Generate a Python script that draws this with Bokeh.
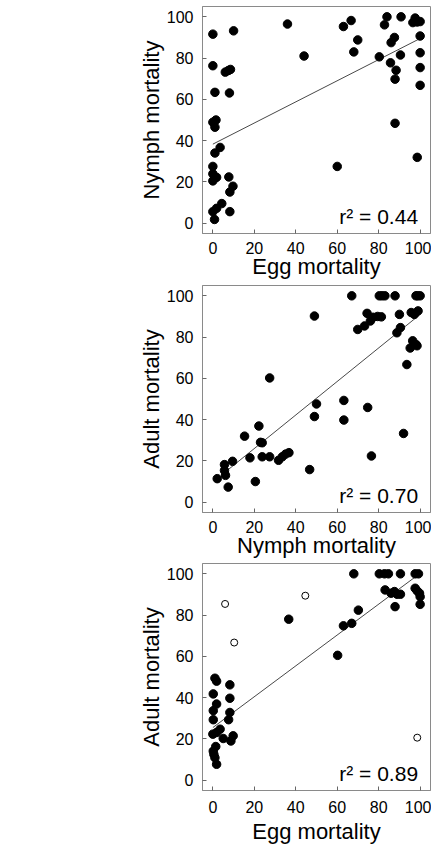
from bokeh.plotting import figure
from bokeh.layouts import column
from bokeh.models import Range1d, FixedTicker, Label
from bokeh.embed import file_html
from bokeh.resources import INLINE

# ---- data ----
ticks = [0, 20, 40, 60, 80, 100]

# Panel 1: egg vs nymph mortality
egg1 = [0, 10, 0, 6, 7.5, 8.5, 1, 8, 0, 1.5, 1, 3.5, 1, 0, 0, 0, 1.8, 7.7, 9.7, 8.2, 4.3, 1.8, 0, 0.8, 8.2,
        36, 44, 60, 63, 66.7, 69.9, 68, 80.3, 82.8, 84, 90.8, 86, 87.6, 85.7, 88.4, 87.9, 90.5, 87.9,
        97.6, 98.6, 96.5, 100, 100, 100, 100, 100, 98.6]
nymph1 = [91.6, 93.2, 76.3, 73.2, 74, 74.5, 63.4, 63.1, 48.9, 50, 46.5, 36.7, 34, 27.5, 23.9, 20.5, 22.2, 22.4, 17.9, 15.1, 9.5, 7.2, 5.6, 1.8, 5.6,
          96.5, 81, 27.5, 95.3, 98.2, 88.8, 83, 80.6, 96.1, 100, 100, 87.5, 90, 77.7, 74.1, 69.8, 81.5, 48.4,
          99.4, 97.5, 97.2, 97.7, 90.7, 82.6, 75.4, 66.8, 31.9]
fit1_x = [0, 100]
fit1_y = [38.3, 89.5]
r2_1 = "r\u00b2 = 0.44"

# Panel 2: nymph vs adult mortality
nymph2 = [2.1, 5.6, 5.6, 6.1, 7.4, 9.5, 15.3, 17.9, 20.5, 22.2, 23, 23.8, 23.8, 27.4, 27.4, 31.7, 33.5, 35.1, 36.7,
          46.7, 49, 49, 50, 63.2, 63.2, 67, 69.9, 73.2, 74.4, 74.7, 76.5, 76, 77.3, 79.5, 81.3, 80.3, 81.6, 83,
          87.9, 90, 88.8, 90.5, 92, 93.6, 95.2, 96.4, 98, 98.5, 95.7, 97.2, 99, 98, 98.8, 100]
adult2 = [11.4, 18.2, 15.4, 13, 7.3, 19.8, 32, 21.5, 10, 36.9, 29, 28.8, 22, 22, 60.2, 20.3, 22, 23.3, 24,
          15.8, 90.2, 41.5, 47.6, 49.3, 39.8, 100, 83.7, 85.4, 91.5, 45.9, 22.4, 87.8, 89.6, 90, 89.8, 100, 100, 100,
          100, 91, 82.1, 84.6, 33.3, 66.7, 74.7, 78.2, 76.4, 75.8, 91.9, 91, 92.7, 100, 100, 100]
fit2_x = [4, 100]
fit2_y = [13, 91]
r2_2 = "r\u00b2 = 0.70"

# Panel 3: egg vs adult mortality (filled and open symbols)
egg3 = [1, 1.8, 0.2, 1.8, 0.2, 0.2, 0, 1.8, 3.5, 5, 1.4, 0.2, 1, 1.8, 0.5, 8.2, 8.2, 8.2, 7.6, 9.8, 8.7,
        36.6, 60.2, 63, 67, 70.2, 68, 80.3, 82.8, 84.7, 90.5, 97.6, 99.2, 83.1, 86, 87.6, 88.9, 90.5, 87.9,
        97.6, 98.6, 99.7, 100, 100]
adult3 = [49.4, 48, 41.8, 36.9, 33.7, 29.3, 22.3, 23.1, 24.7, 20.2, 16.3, 14.1, 10.9, 7.7, 12.5, 46.2, 39.7, 32.8, 29.3, 21.5, 19,
          78, 60.5, 74.8, 76, 82.4, 100, 100, 100, 100, 100, 100, 100, 92.2, 90.6, 91.4, 90.1, 90.1, 84.1,
          93, 91.7, 90.6, 88.9, 85.2]
egg3_open = [5.9, 10.3, 44.6, 98.6]
adult3_open = [85.4, 66.7, 89.4, 20.6]
fit3_x = [0, 99]
fit3_y = [25.5, 99.5]
r2_3 = "r\u00b2 = 0.89"

FONT = "Liberation Sans"


def make_panel(xlabel, ylabel, border_top, border_bottom, tick_standoff, label_standoff):
    p = figure(frame_width=228, frame_height=227, output_backend="svg", toolbar_location=None,
               x_range=Range1d(-5, 105), y_range=Range1d(-5, 105),
               min_border_left=202, min_border_right=1, min_border_top=border_top,
               min_border_bottom=border_bottom)
    p.grid.visible = False
    p.outline_line_color = "#8a8a8a"
    p.outline_line_width = 1
    p.background_fill_color = "white"
    for ax in (p.xaxis[0], p.yaxis[0]):
        ax.ticker = FixedTicker(ticks=ticks)
        ax.major_tick_in = 4
        ax.major_tick_out = 0
        ax.minor_tick_line_color = None
        ax.axis_line_color = "#8a8a8a"
        ax.major_tick_line_color = "#666666"
        ax.major_label_text_font = FONT
        ax.major_label_text_font_size = "16px"
        ax.major_label_text_color = "black"
        ax.axis_label_text_font = FONT
        ax.axis_label_text_font_style = "normal"
        ax.axis_label_text_color = "black"
        ax.axis_label_text_font_size = "22px"
    p.xaxis.axis_label = xlabel
    p.yaxis.axis_label = ylabel
    p.xaxis.major_label_standoff = tick_standoff
    p.yaxis.major_label_standoff = 9
    p.yaxis.axis_label_standoff = 0
    p.xaxis.axis_label_standoff = label_standoff
    return p


def add_r2(p, txt):
    p.add_layout(Label(x=99, y=3, text=txt, text_align="right", text_baseline="alphabetic",
                       text_font=FONT, text_font_size="21px", text_color="black"))


p1 = make_panel("Egg mortality", "Nymph mortality", 6, 52, 8, -3)
p1.line(fit1_x, fit1_y, line_color="#333333", line_width=0.9)
p1.scatter(egg1, nymph1, size=8.5, fill_color="black", line_color="black")
add_r2(p1, r2_1)

p2 = make_panel("Nymph mortality", "Adult mortality", 0, 51, 8, -3)
p2.line(fit2_x, fit2_y, line_color="#333333", line_width=0.9)
p2.scatter(nymph2, adult2, size=8.5, fill_color="black", line_color="black")
add_r2(p2, r2_2)

p3 = make_panel("Egg mortality", "Adult mortality", 0, 56, 10, 3)
p3.line(fit3_x, fit3_y, line_color="#333333", line_width=0.9)
p3.scatter(egg3, adult3, size=8.5, fill_color="black", line_color="black")
p3.scatter(egg3_open, adult3_open, size=7, fill_color="white", line_color="black", line_width=1)
add_r2(p3, r2_3)

layout = column(p1, p2, p3, spacing=0)
open("out.html", "w").write(file_html(layout, INLINE))
